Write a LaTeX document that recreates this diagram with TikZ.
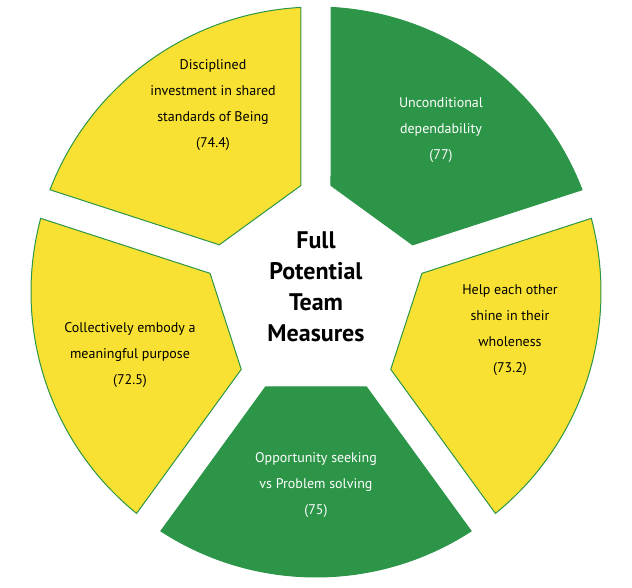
\documentclass[tikz,border=0pt]{standalone}
\usepackage{fontspec}
\setmainfont{PT Sans}
\definecolor{segyellow}{HTML}{F9E133}
\definecolor{seggreen}{HTML}{2C9548}
\begin{document}
\begin{tikzpicture}[x=1pt,y=1pt,
  seg/.style={draw=seggreen,line width=1pt,fill=#1},
  lbl/.style={align=center,font=\fontsize{14}{26}\selectfont,text=#1},
  ttl/.style={align=center,font=\fontsize{24}{31}\selectfont\bfseries}]
\useasboundingbox (-316,-296) rectangle (316,292);
\foreach \a/\c in {126/segyellow,54/seggreen,-18/segyellow,-90/seggreen,198/segyellow}{
  \begin{scope}[rotate=\a]
    \path[seg=\c] (95,50.48) -- (32.98:285) arc[start angle=32.98,end angle=-32.98,radius=285] -- (95,-50.48) -- cycle;
  \end{scope}
}
\node[lbl=black] (tl) at (-103,187) {Disciplined\\investment in shared\\standards of Being\\(74.4)};
\node[lbl=white] (tr) at (125,162) {Unconditional\\dependability\\(77)};
\node[lbl=black] (r) at (194,-38) {Help each other\\shine in their\\wholeness\\(73.2)};
\node[lbl=white] (b) at (0,-193) {Opportunity seeking\\vs Problem solving\\(75)};
\node[lbl=black] (l) at (-186,-63) {Collectively embody a\\meaningful purpose\\(72.5)};
\node[ttl] (c) at (0,5) {Full\\Potential\\Team\\Measures};
\end{tikzpicture}
\end{document}
